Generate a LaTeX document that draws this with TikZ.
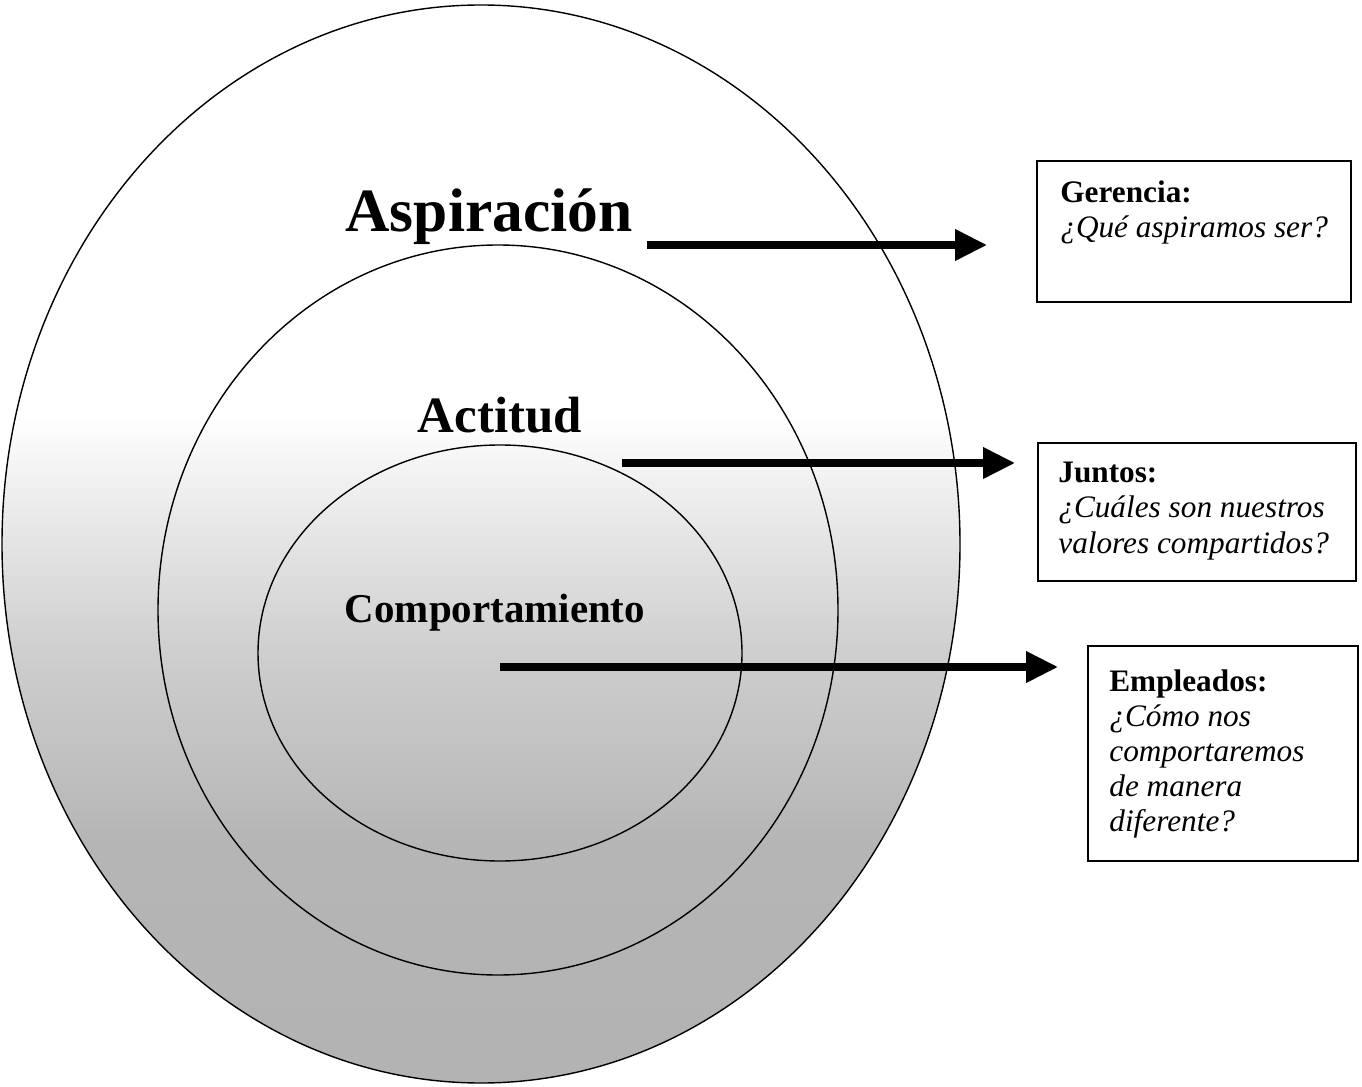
\documentclass[tikz,border=0pt]{standalone}
\usepackage{fontspec}
\setmainfont{Liberation Serif}
\usetikzlibrary{arrows.meta,positioning,calc}

% grey spray that darkens towards the bottom of the outer ring
\pgfdeclareverticalshading{rociado}{100bp}{color(0bp)=(gray!64); color(36bp)=(gray!58); color(45bp)=(gray!38); color(51bp)=(gray!18); color(56bp)=(white); color(100bp)=(white)}

\begin{document}
\begin{tikzpicture}[x=0.02cm, y=-0.02cm]

 \tikzset{
   anillo/.style={draw=black, line width=0.8pt},
   nivel/.style={anchor=base, inner sep=0pt, font=\bfseries},
   caja/.style={rectangle, draw=black, line width=1pt, anchor=north west, inner sep=0pt},
   textocaja/.style={anchor=north west, align=left, inner sep=0pt, font=\fontsize{17.8}{20}\selectfont},
   flecha/.style={-{Triangle[length=0.64cm, width=0.6cm]}, line width=4pt}
 }
 \def\px{0.02cm}

 \useasboundingbox (0,0) rectangle (1362,1087);

 % Rings (centre, radii in px)
 \coordinate (c_asp) at (481,544);
 \coordinate (c_act) at (498,610);
 \coordinate (c_comp) at (500,653);

 \shadedraw[anillo, shading=rociado] (c_asp) ellipse [x radius=479, y radius=539];
 \draw[anillo] (c_act) ellipse [x radius=340, y radius=365];
 \draw[anillo] (c_comp) ellipse [x radius=242, y radius=208];

 % Ring titles
 \node[nivel, font=\fontsize{35}{40}\selectfont\bfseries] (aspiracion) at (489,232) {Aspiración};
 \node[nivel, font=\fontsize{29}{34}\selectfont\bfseries] (actitud) at (500,433) {Actitud};
 \node[nivel, font=\fontsize{23.3}{28}\selectfont\bfseries] (comportamiento) at (495,622) {Comportamiento};

 % Boxes on the right
 \node[caja, minimum width=314*\px, minimum height=141*\px] (gerencia) at (1036,160) {};
 \node[caja, minimum width=318*\px, minimum height=138*\px] (juntos) at (1037,442) {};
 \node[caja, minimum width=270*\px, minimum height=215*\px] (empleados) at (1087,645) {};

 \node[textocaja] (t_gerencia) at ([xshift=24*\px, yshift=-20*\px]gerencia.north west)
   {\textbf{Gerencia:}\\\textit{¿Qué aspiramos ser?}};
 \node[textocaja] (t_juntos) at ([xshift=21*\px, yshift=-20*\px]juntos.north west)
   {\textbf{Juntos:}\\\textit{¿Cuáles son nuestros}\\\textit{valores compartidos?}};
 \node[textocaja] (t_empleados) at ([xshift=22*\px, yshift=-24*\px]empleados.north west)
   {\textbf{Empleados:}\\\textit{¿Cómo nos}\\\textit{comportaremos}\\\textit{de manera}\\\textit{diferente?}};

 % Arrow starts
 \coordinate (a_asp) at (647,245);
 \coordinate (a_act) at (622,463);
 \coordinate (a_comp) at (500,667);

 % Arrows
 \draw[flecha, shorten >=49*\px] (a_asp) -- (a_asp -| gerencia.west);
 \draw[flecha, shorten >=22*\px] (a_act) -- (a_act -| juntos.west);
 \draw[flecha, shorten >=29*\px] (a_comp) -- (a_comp -| empleados.west);

\end{tikzpicture}
\end{document}
